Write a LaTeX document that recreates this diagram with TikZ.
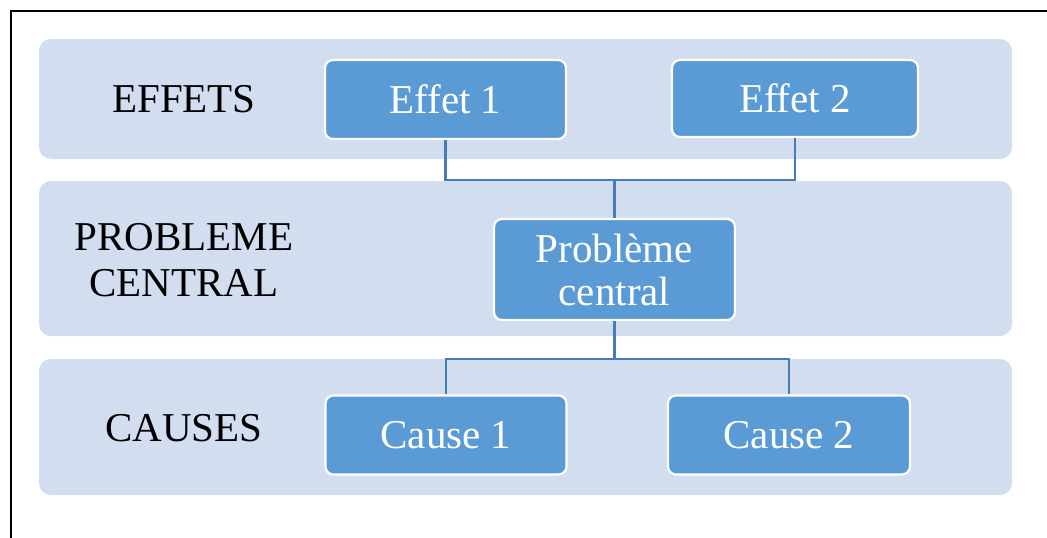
\documentclass[tikz,border=0pt]{standalone}
\usepackage{fontspec}
\setmainfont{Liberation Serif}
\definecolor{bandfill}{RGB}{210,222,239}
\definecolor{boxfill}{RGB}{91,155,213}
\definecolor{linkblue}{RGB}{72,124,184}
\begin{document}
\begin{tikzpicture}[x=1pt,y=-1pt,
  band/.style={fill=bandfill,rounded corners=12pt,inner sep=0pt,minimum width=973pt},
  boxnode/.style={fill=boxfill,draw=white,line width=2.2pt,rounded corners=8pt,
    text=white,inner sep=0pt,minimum width=241pt,minimum height=79pt,
    font=\fontsize{41}{43}\selectfont,align=center},
  label/.style={text=black,font=\fontsize{41}{46}\selectfont,align=center,inner sep=0pt},
  conn/.style={draw=linkblue,line width=2.6pt}]
\useasboundingbox (0,0) rectangle (1047,538);
% outer frame (left and top edges)
\draw[line width=2.6pt] (11,538) -- (11,11) -- (1047,11);
% background bands
\node[band,minimum height=120pt] (b1) at (525.5,99) {};
\node[band,minimum height=155pt] (b2) at (525.5,258.5) {};
\node[band,minimum height=136pt] (b3) at (525.5,427) {};
% row titles
\node[label] (t1) at (184,99) {EFFETS};
\node[label] (t2) at (184,260) {PROBLEME\\CENTRAL};
\node[label] (t3) at (184,428) {CAUSES};
% boxes
\node[boxnode] (e1) at (445.5,99.5) {Effet 1};
\node[boxnode,minimum width=246pt,minimum height=77pt] (e2) at (795,98.5) {Effet 2};
\node[boxnode,minimum height=101pt] (pc) at (614.5,269.5) {Problème\\central};
\node[boxnode] (c1) at (446,435) {Cause 1};
\node[boxnode,minimum width=242pt] (c2) at (789,435) {Cause 2};
% connector junctions
\coordinate (j1) at (614.5,180);
\coordinate (j2) at (614.5,359);
% connectors
\draw[conn] (e1.south) |- (j1) -| (e2.south);
\draw[conn] (j1) -- (pc.north);
\draw[conn] (pc.south) -- (j2);
\draw[conn] (c1.north) |- (j2) -| (c2.north);
\end{tikzpicture}
\end{document}
